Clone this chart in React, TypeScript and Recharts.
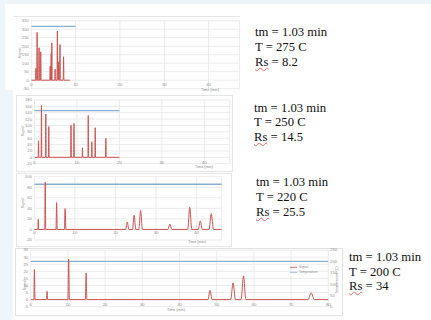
import React from 'react';
import { LineChart, Line, XAxis, YAxis, CartesianGrid } from 'recharts';

const W = 431;
const H = 320;

// ---- Chart 1 : T = 275 C ----
const peakTimes1 = [1.03, 1.32, 1.76, 2.13, 4.26, 4.49, 4.63, 5.37, 5.88, 6.18, 6.47, 7.28];
const peakHeights1 = [69, 281, 191, 167, 83, 157, 220, 65, 289, 108, 210, 138];
const peakHalfWidths1 = [0.06, 0.08, 0.08, 0.08, 0.08, 0.06, 0.06, 0.08, 0.08, 0.08, 0.08, 0.08];
const signalEnd1 = 8.7;
const tempValue1 = 275;
const tempEnd1 = 10;
const xMax1 = 47;
const yTicks1 = [-50, 0, 50, 100, 150, 200, 250, 300, 350];
const tempDomain1 = [0, 300];

// ---- Chart 2 : T = 250 C ----
const peakTimes2 = [0.94, 1.64, 2.66, 3.36, 8.6, 9.3, 11.3, 12.66, 13.5, 14.3, 16.8];
const peakHeights2 = [52, 162, 136, 97, 101, 107, 30, 131, 49, 93, 60];
const peakHalfWidths2 = [0.08, 0.08, 0.08, 0.08, 0.08, 0.08, 0.08, 0.08, 0.08, 0.08, 0.1];
const signalEnd2 = 20;
const tempValue2 = 250;
const tempEnd2 = 20;
const xMax2 = 46;
const yTicks2 = [-20, 0, 20, 40, 60, 80, 100, 120, 140, 160, 180];
const tempDomain2 = [0, 300];

// ---- Chart 3 : T = 220 C ----
const peakTimes3 = [0.98, 2.7, 5.5, 7.6, 22.9, 24.6, 26.2, 33.4, 38.3, 40.9, 43.6];
const peakHeights3 = [19, 90, 51, 39.5, 14, 27, 36, 10, 42, 16, 30];
const peakHalfWidths3 = [0.1, 0.12, 0.15, 0.18, 0.4, 0.4, 0.45, 0.5, 0.5, 0.5, 0.55];
const signalEnd3 = 46.2;
const tempValue3 = 220;
const tempEnd3 = 46.2;
const xMax3 = 46.2;
const yTicks3 = [-20, 0, 20, 40, 60, 80, 100];
const tempDomain3 = [0, 250];

// ---- Chart 4 : T = 200 C ----
const peakTimes4 = [1.0, 4.4, 10.2, 14.9, 48.2, 54.4, 57.2, 75.4];
const peakHeights4 = [21.2, 5.9, 28.5, 18.8, 6.6, 11.8, 16.7, 4.7];
const peakHalfWidths4 = [0.15, 0.15, 0.2, 0.2, 0.55, 0.65, 0.65, 0.85];
const signalEnd4 = 80;
const tempValue4 = 200;
const tempEnd4 = 80;
const xMax4 = 80;
const yTicks4 = [-5, 0, 5, 10, 15, 20, 25, 30, 35];
const tempDomain4 = [0, 250];
const tempTicks4 = [0, 50, 100, 150, 200, 250];

const xTicksShort = [0, 10, 20, 30, 40];
const xTicksLong = [0, 10, 20, 30, 40, 50, 60, 70, 80];

const captions = [
  ['tm = 1.03 min', 'T = 275 C', '8.2'],
  ['tm = 1.03 min', 'T = 250 C', '14.5'],
  ['tm = 1.03 min', 'T = 220 C', '25.5'],
  ['tm = 1.03 min', 'T = 200 C', '34'],
];

const SIGNAL = '#c9524e';
const TEMP = '#88afd0';
const GRID = '#e6e6e6';
const TICK = '#8e8e8e';

function buildSignal(times: number[], heights: number[], halfWidths: number[], end: number) {
  const rows: { t: number; v: number }[] = [{ t: 0, v: 0 }];
  times.forEach((t, i) => {
    rows.push({ t: t - halfWidths[i], v: 0 });
    rows.push({ t, v: heights[i] });
    rows.push({ t: t + halfWidths[i], v: 0 });
  });
  rows.push({ t: end, v: 0 });
  return rows;
}

function buildTemp(value: number, end: number) {
  return [
    { t: 0, v: value },
    { t: end, v: value },
  ];
}

type Cfg = {
  margin: { top: number; right: number; bottom: number; left: number };
  signal: { t: number; v: number }[];
  temp: { t: number; v: number }[];
  xMax: number;
  xTicks: number[];
  yTicks: number[];
  tempDomain: number[];
  tempTicks?: number[];
  xLabelDy: number;
};

const charts: Cfg[] = [
  {
    margin: { top: 20.7, right: 191.4, bottom: 221.3, left: 11.3 },
    signal: buildSignal(peakTimes1, peakHeights1, peakHalfWidths1, signalEnd1),
    temp: buildTemp(tempValue1, tempEnd1),
    xMax: xMax1,
    xTicks: xTicksShort,
    yTicks: yTicks1,
    tempDomain: tempDomain1,
    xLabelDy: -4.7,
  },
  {
    margin: { top: 100, right: 201.2, bottom: 146.3, left: 14.5 },
    signal: buildSignal(peakTimes2, peakHeights2, peakHalfWidths2, signalEnd2),
    temp: buildTemp(tempValue2, tempEnd2),
    xMax: xMax2,
    xTicks: xTicksShort,
    yTicks: yTicks2,
    tempDomain: tempDomain2,
    xLabelDy: -1.6,
  },
  {
    margin: { top: 176.7, right: 209.2, bottom: 70, left: 14.3 },
    signal: buildSignal(peakTimes3, peakHeights3, peakHalfWidths3, signalEnd3),
    temp: buildTemp(tempValue3, tempEnd3),
    xMax: xMax3,
    xTicks: xTicksShort,
    yTicks: yTicks3,
    tempDomain: tempDomain3,
    xLabelDy: -7.7,
  },
  {
    margin: { top: 250, right: 87.7, bottom: 3.3, left: 10.7 },
    signal: buildSignal(peakTimes4, peakHeights4, peakHalfWidths4, signalEnd4),
    temp: buildTemp(tempValue4, tempEnd4),
    xMax: xMax4,
    xTicks: xTicksLong,
    yTicks: yTicks4,
    tempDomain: tempDomain4,
    tempTicks: tempTicks4,
    xLabelDy: -2.4,
  },
];

function Chrom({ cfg }: { cfg: Cfg }) {
  const XTick = (props: any) => {
    const { x, y, payload } = props;
    return (
      <text
        x={x}
        y={y + cfg.xLabelDy}
        textAnchor="middle"
        dominantBaseline="central"
        fontSize={4.2}
        fill={TICK}
        fontFamily="Liberation Sans, Arial, sans-serif"
      >
        {payload.value}
      </text>
    );
  };
  return (
    <div style={{ position: 'absolute', left: 0, top: 0 }}>
      <LineChart width={W} height={H} margin={cfg.margin}>
        <CartesianGrid xAxisId="x" yAxisId="l" stroke={GRID} strokeWidth={0.8} />
        <XAxis
          xAxisId="x"
          dataKey="t"
          type="number"
          domain={[0, cfg.xMax]}
          ticks={cfg.xTicks}
          interval={0}
          height={10}
          tickSize={0}
          tickMargin={0}
          axisLine={false}
          tickLine={false}
          tick={XTick}
          allowDataOverflow
        />
        <YAxis
          yAxisId="l"
          type="number"
          domain={[cfg.yTicks[0], cfg.yTicks[cfg.yTicks.length - 1]]}
          ticks={cfg.yTicks}
          interval={0}
          width={20}
          tickSize={0}
          tickMargin={2.5}
          axisLine={false}
          tickLine={false}
          tick={{ fontSize: 4.2, fill: TICK, fontFamily: 'Liberation Sans, Arial, sans-serif' }}
          allowDataOverflow
        />
        {cfg.tempTicks ? (
          <YAxis
            yAxisId="r"
            orientation="right"
            type="number"
            domain={cfg.tempDomain}
            ticks={cfg.tempTicks}
            interval={0}
            width={15}
            tickSize={0}
            tickMargin={1.8}
            axisLine={false}
            tickLine={false}
            tick={{ fontSize: 4.2, fill: TICK, fontFamily: 'Liberation Sans, Arial, sans-serif' }}
          />
        ) : (
          <YAxis yAxisId="r" orientation="right" type="number" domain={cfg.tempDomain} hide />
        )}
        <Line
          xAxisId="x"
          yAxisId="r"
          data={cfg.temp}
          dataKey="v"
          type="linear"
          stroke={TEMP}
          strokeWidth={1.4}
          dot={false}
          isAnimationActive={false}
        />
        <Line
          xAxisId="x"
          yAxisId="l"
          data={cfg.signal}
          dataKey="v"
          type="monotone"
          stroke={SIGNAL}
          strokeWidth={1}
          dot={false}
          isAnimationActive={false}
        />
      </LineChart>
    </div>
  );
}

const captionTops = [25.4, 100.6, 175.2, 249.9];
const captionLefts = [255, 254, 256, 349];
const timeTitlePos = [
  [210, 89.5],
  [204, 167],
  [197, 241.7],
  [176, 310],
];
const signalTitlePos = [
  [20, 53],
  [22.7, 131],
  [22.7, 203],
  [25, 285],
];

export default function App() {
  return (
    <div
      style={{
        position: 'absolute',
        left: 0,
        top: 0,
        width: W,
        height: H,
        overflow: 'hidden',
        background: '#eef6fb',
      }}
    >
      <div style={{ position: 'absolute', left: 5, top: 4, width: 426, height: 86, background: '#fff' }} />
      <div style={{ position: 'absolute', left: 13, top: 90, width: 418, height: 230, background: '#fff' }} />
      <div style={{ position: 'absolute', left: 13, top: 15.5, width: 227, height: 1, background: '#e6e6e6' }} />
      <div style={{ position: 'absolute', left: 16, top: 95, width: 215, height: 75, border: '1px solid #e6e6e6' }} />
      <div style={{ position: 'absolute', left: 16, top: 173, width: 214, height: 72, border: '1px solid #e6e6e6' }} />
      <div style={{ position: 'absolute', left: 15, top: 248, width: 326, height: 66, border: '1px solid #e2e2e2' }} />

      {charts.map((c, i) => (
        <Chrom key={i} cfg={c} />
      ))}

      <svg
        width={W}
        height={H}
        style={{ position: 'absolute', left: 0, top: 0 }}
        fontFamily="Liberation Sans, Arial, sans-serif"
      >
        {timeTitlePos.map(([x, y], i) => (
          <text key={'t' + i} x={x} y={y} fontSize={3.8} fill="#8a8a8a" textAnchor="middle" dominantBaseline="central">
            Time (min)
          </text>
        ))}
        {signalTitlePos.map(([x, y], i) => (
          <text
            key={'s' + i}
            x={x}
            y={y}
            fontSize={3.8}
            fill="#8a8a8a"
            textAnchor="middle"
            dominantBaseline="central"
            transform={`rotate(-90 ${x} ${y})`}
          >
            Signal
          </text>
        ))}
        <text
          x={337}
          y={280}
          fontSize={3.8}
          fill="#8a8a8a"
          textAnchor="middle"
          dominantBaseline="central"
          transform="rotate(-90 337 280)"
        >
          Temperature (C)
        </text>
        <line x1={290} x2={297} y1={267.3} y2={267.3} stroke={SIGNAL} strokeWidth={0.8} />
        <text x={299} y={267.3} fontSize={3.3} fill="#8a8a8a" dominantBaseline="central">
          Signal
        </text>
        <line x1={290} x2={297} y1={272.3} y2={272.3} stroke={TEMP} strokeWidth={0.8} />
        <text x={299} y={272.3} fontSize={3.3} fill="#8a8a8a" dominantBaseline="central">
          Temperature
        </text>
      </svg>

      {captions.map((lines, i) => (
        <div
          key={'c' + i}
          style={{
            position: 'absolute',
            left: captionLefts[i],
            top: captionTops[i],
            fontFamily: '"Liberation Serif", "Times New Roman", serif',
            fontSize: 12.7,
            lineHeight: '14.7px',
            color: '#111',
            whiteSpace: 'nowrap',
          }}
        >
          <div>{lines[0]}</div>
          <div>{lines[1]}</div>
          <div>
            <span
              style={{
                textDecorationLine: 'underline',
                textDecorationStyle: 'wavy',
                textDecorationColor: '#e06666',
                textDecorationThickness: '0.6px',
                textUnderlineOffset: '1px',
              }}
            >
              Rs
            </span>
            {' = ' + lines[2]}
          </div>
        </div>
      ))}
    </div>
  );
}
